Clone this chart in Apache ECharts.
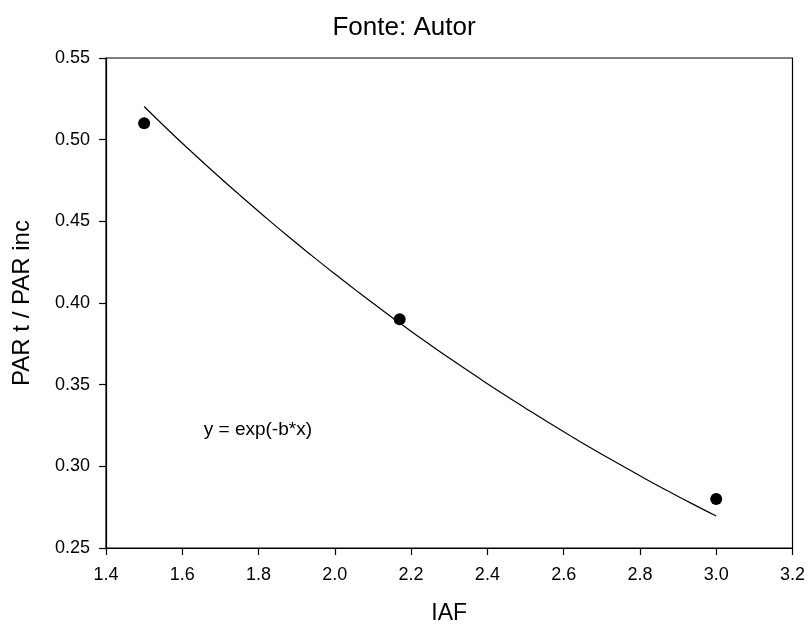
<!DOCTYPE html>
<html>
<head>
<meta charset="utf-8">
<script src="https://cdn.jsdelivr.net/npm/echarts@6/dist/echarts.min.js"></script>
<style>
  html, body { margin: 0; padding: 0; background: #fff; }
  #chart { width: 808px; height: 630px; }
</style>
</head>
<body>
<div id="chart"></div>
<script>
var myChart = echarts.init(document.getElementById('chart'));

// measured points
var iaf = [1.5, 2.17, 3.0];
var parRatio = [0.51, 0.39, 0.28];

// fitted curve y = exp(-b*x)
var curveX = [1.5, 1.5625, 1.625, 1.6875, 1.75, 1.8125, 1.875, 1.9375, 2.0, 2.0625, 2.125, 2.1875,
              2.25, 2.3125, 2.375, 2.4375, 2.5, 2.5625, 2.625, 2.6875, 2.75, 2.8125, 2.875, 2.9375, 3.0];
var curveY = [0.5203, 0.5061, 0.4924, 0.4791, 0.4662, 0.4536, 0.4413, 0.4294, 0.4178, 0.4065, 0.3955, 0.3848,
              0.3744, 0.3643, 0.3545, 0.3449, 0.3356, 0.3265, 0.3177, 0.3091, 0.3008, 0.2926, 0.2847, 0.2770, 0.2696];

var xTicks = [1.4, 1.6, 1.8, 2.0, 2.2, 2.4, 2.6, 2.8, 3.0, 3.2];
var yTicks = [0.25, 0.30, 0.35, 0.40, 0.45, 0.50, 0.55];

var eqLabel = 'y = exp(-b*x)';
var eqPos = [1.655, 0.3224];

var font = 'Liberation Sans, Arial, sans-serif';

var zip = function (a, b) {
    var res = [];
    for (var i = 0; i < a.length; i++) res.push([a[i], b[i]]);
    return res;
};

option = {
    backgroundColor: '#fff',
    animation: false,
    title: {
        text: 'Fonte: Autor',
        left: 'center',
        top: 10,
        textStyle: { fontFamily: font, fontSize: 26, fontWeight: 'normal', color: '#000' }
    },
    grid: {
        left: 106, right: 15, top: 58, bottom: 75,
        show: true, borderColor: '#000', borderWidth: 1.2
    },
    xAxis: {
        type: 'value',
        min: xTicks[0],
        max: xTicks[xTicks.length - 1],
        interval: 0.2,
        name: 'IAF',
        nameLocation: 'middle',
        nameGap: 54,
        nameTextStyle: { fontFamily: font, fontSize: 23, color: '#000' },
        axisLine: { lineStyle: { color: '#000', width: 1.2 } },
        axisTick: { show: true, length: 7, lineStyle: { color: '#000', width: 1.2 } },
        splitLine: { show: false },
        axisLabel: {
            fontFamily: font, fontSize: 18, color: '#000', margin: 18,
            formatter: function (v) { return v.toFixed(1); }
        }
    },
    yAxis: {
        type: 'value',
        min: yTicks[0],
        max: yTicks[yTicks.length - 1],
        interval: 0.05,
        name: 'PAR t / PAR inc',
        nameLocation: 'middle',
        nameGap: 72,
        nameTextStyle: { fontFamily: font, fontSize: 24, color: '#000' },
        axisLine: { show: true, lineStyle: { color: '#000', width: 1.2 } },
        axisTick: { show: true, length: 7, lineStyle: { color: '#000', width: 1.2 } },
        splitLine: { show: false },
        axisLabel: {
            fontFamily: font, fontSize: 18, color: '#000', margin: 16,
            formatter: function (v) { return v.toFixed(2); }
        }
    },
    series: [
        {
            type: 'line',
            data: zip(curveX, curveY),
            smooth: true,
            showSymbol: false,
            lineStyle: { color: '#000', width: 1.2 },
            z: 2
        },
        {
            type: 'scatter',
            data: zip(iaf, parRatio),
            symbolSize: 12,
            itemStyle: { color: '#000', opacity: 1 },
            z: 3
        },
        {
            type: 'scatter',
            data: [eqPos],
            symbolSize: 1,
            itemStyle: { color: '#fff', opacity: 1 },
            label: {
                show: true,
                position: 'right',
                distance: 0,
                formatter: eqLabel,
                fontFamily: font,
                fontSize: 19,
                color: '#000'
            },
            z: 4
        }
    ]
};

myChart.setOption(option);
</script>
</body>
</html>
